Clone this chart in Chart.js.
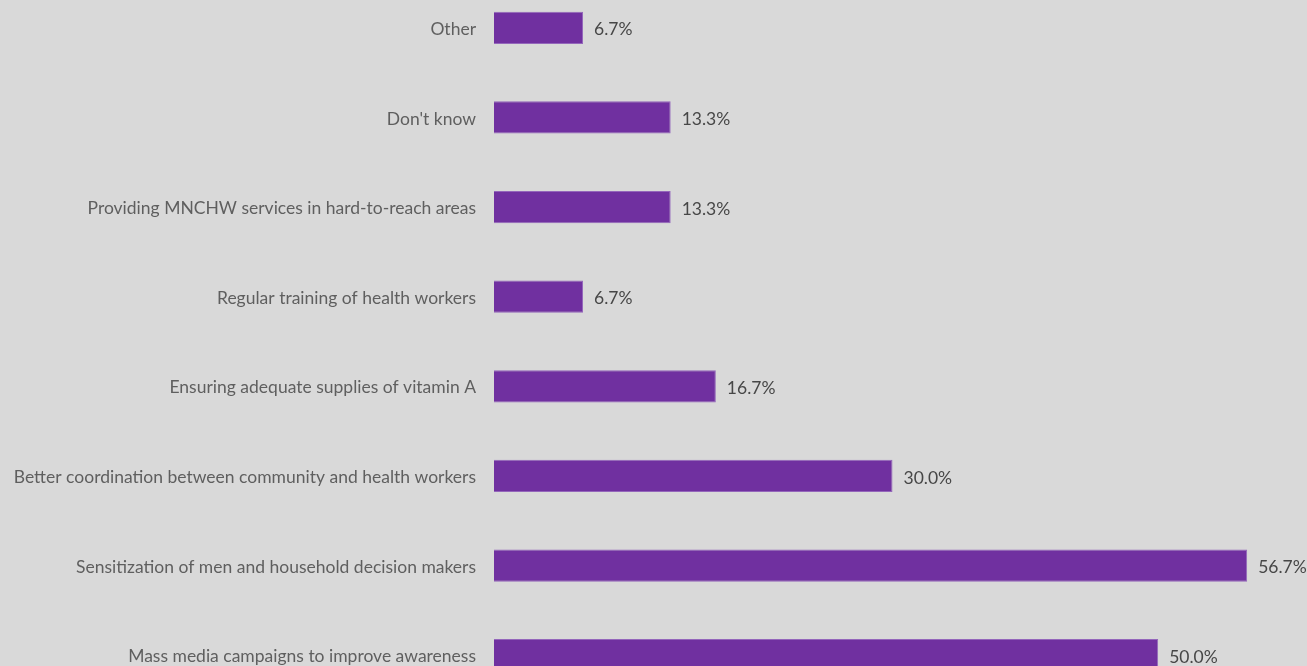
<!DOCTYPE html>
<html>
<head>
<meta charset="utf-8">
<script src="https://cdn.jsdelivr.net/npm/chart.js@4/dist/chart.umd.min.js"></script>
<style>
  html, body { margin: 0; padding: 0; background: #d9d9d9; overflow: hidden; }
  #chart { position: absolute; left: 0; top: -17px; }
</style>
</head>
<body>
<canvas id="chart" width="1307" height="717"></canvas>
<script>
const categories = [
  "Other",
  "Don't know",
  "Providing MNCHW services in hard-to-reach areas",
  "Regular training of health workers",
  "Ensuring adequate supplies of vitamin A",
  "Better coordination between community and health workers",
  "Sensitization of men and household decision makers",
  "Mass media campaigns to improve awareness"
];
const shares = [6.7, 13.3, 13.3, 6.7, 16.7, 30.0, 56.7, 50.0];

const FONT = 'Lato, "Open Sans", sans-serif';

// Percentage label just past the end of each bar
const valueLabels = {
  id: 'valueLabels',
  afterDatasetsDraw(chart) {
    const ctx = chart.ctx;
    const meta = chart.getDatasetMeta(0);
    ctx.save();
    ctx.font = '17.5px ' + FONT;
    ctx.fillStyle = '#474747';
    ctx.textAlign = 'left';
    ctx.textBaseline = 'middle';
    meta.data.forEach((bar, i) => {
      ctx.fillText(shares[i].toFixed(1) + '%', bar.x + 11, bar.y + 2);
    });
    ctx.restore();
  }
};

new Chart(document.getElementById('chart'), {
  type: 'bar',
  data: {
    labels: categories,
    datasets: [{
      data: shares,
      backgroundColor: '#7030a0',
      borderColor: '#9466bb',
      borderWidth: 1,
      categoryPercentage: 1,
      barPercentage: 0.36
    }]
  },
  options: {
    indexAxis: 'y',
    responsive: false,
    animation: false,
    layout: { padding: { left: 0, right: 16, top: 0, bottom: 0 } },
    plugins: { legend: { display: false }, tooltip: { enabled: false } },
    scales: {
      x: {
        display: false,
        min: 0,
        max: 60
      },
      y: {
        grid: { display: false, drawTicks: false },
        border: { display: false },
        ticks: {
          color: '#5f5f5f',
          font: { family: FONT, size: 17.5 },
          padding: 18,
          labelOffset: 1.5
        },
        afterFit(scale) {
          scale.width = 494;
          // category bands fill the full canvas height
          scale.paddingTop = 0;
          scale.paddingBottom = 0;
        }
      }
    }
  },
  plugins: [valueLabels]
});
</script>
</body>
</html>
